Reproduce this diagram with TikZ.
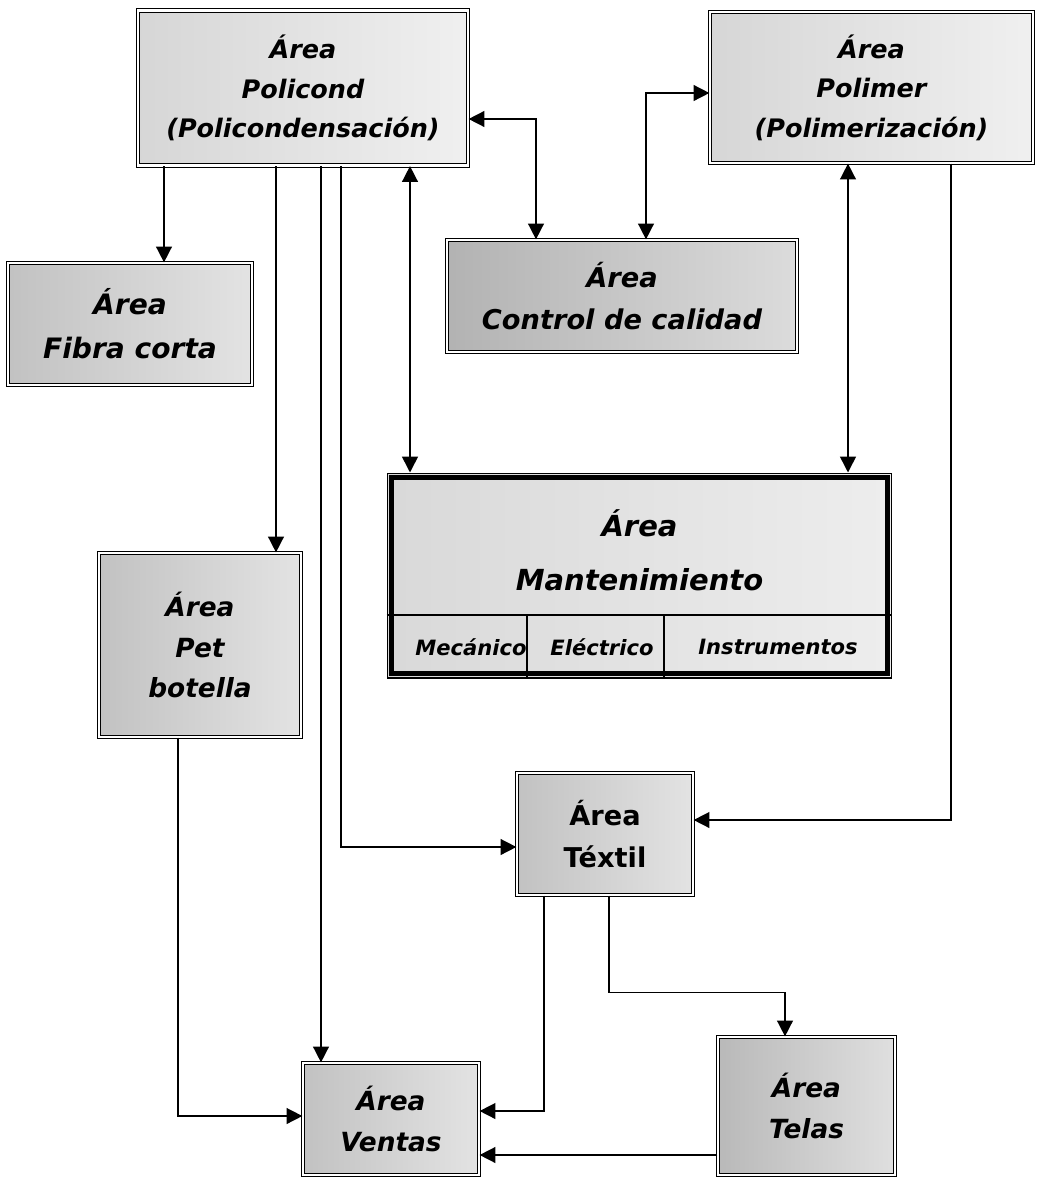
\documentclass[tikz,border=0pt]{standalone}
\usepackage{fontspec}
\setmainfont{DejaVu Sans}
\usetikzlibrary{arrows.meta,calc,positioning}

\newcommand{\areafont}[2]{\bfseries\itshape\fontsize{#1}{#2}\selectfont}

\tikzset{
  area/.style={draw=black, line width=0.7pt, double=white, double distance=1.2pt,
    left color=gray!48, right color=gray!22, align=center, inner sep=2pt},
  lightarea/.style={area, left color=gray!32, right color=gray!12},
  mantbox/.style={draw=black, line width=0.6pt, left color=gray!30, right color=gray!14},
  conn/.style={line width=0.9pt, -{Triangle[length=9pt,width=9pt]}},
  conn2/.style={line width=0.9pt, {Triangle[length=9pt,width=9pt]}-{Triangle[length=9pt,width=9pt]}}
}

\begin{document}
\begin{tikzpicture}[x=0.02cm, y=-0.02cm]
  \useasboundingbox (0,0) rectangle (1050,1180);

  % Areas
  \node[lightarea, font=\areafont{14.5}{22.5}, minimum width=6.6cm, minimum height=3.1cm]
    (poli) at (303,88) {Área\\Policond\\(Policondensación)};
  \node[lightarea, font=\areafont{14.5}{22.5}, minimum width=6.46cm, minimum height=3.02cm]
    (polim) at (871.5,87.5) {Área\\Polimer\\(Polimerización)};
  \node[area, left color=gray!60, right color=gray!28, font=\areafont{15.5}{24},
    minimum width=7cm, minimum height=2.24cm]
    (calidad) at (622,296) {Área\\Control de calidad};
  \node[area, font=\areafont{16}{25}, minimum width=4.88cm, minimum height=2.44cm]
    (fibra) at (130,324) {Área\\Fibra corta};
  \node[area, font=\areafont{15}{23}, minimum width=4.04cm, minimum height=3.68cm]
    (pet) at (200,645) {Área\\Pet\\botella};
  \node[area, font=\bfseries\fontsize{15.5}{24}\selectfont, minimum width=3.52cm, minimum height=2.44cm]
    (textil) at (605,834) {Área\\Téxtil};
  \node[area, font=\areafont{15}{23}, minimum width=3.52cm, minimum height=2.24cm]
    (ventas) at (391,1119) {Área\\Ventas};
  \node[area, left color=gray!55, right color=gray!25, font=\areafont{15}{23},
    minimum width=3.54cm, minimum height=2.76cm]
    (telas) at (806.5,1106) {Área\\Telas};

  % Mantenimiento
  \node[mantbox, minimum width=10.1cm, minimum height=4.1cm] (mant) at (639.5,575.5) {};
  \draw[line width=2.4pt] ($(mant.north west)+(5,5)$) rectangle ($(mant.south east)+(-5,-5)$);
  \draw[line width=0.8pt] (mant.west |- 0,615) -- (mant.east |- 0,615);
  \draw[line width=0.8pt] (527,615) -- (mant.south -| 527,0);
  \draw[line width=0.8pt] (664,615) -- (mant.south -| 664,0);
  \node[font=\areafont{16.5}{31}, align=center] (manttit) at (639.5,550) {Área\\Mantenimiento};
  \node[font=\areafont{12}{16}] (meca) at (471,647) {Mecánico};
  \node[font=\areafont{12}{16}] (elec) at (602,647) {Eléctrico};
  \node[font=\areafont{12}{16}] (instr) at (778,647) {Instrumentos};

  % Connectors
  \draw[conn] (poli.south -| 164,0) -- (fibra.north -| 164,0);
  \draw[conn] (poli.south -| 276,0) -- (pet.north -| 276,0);
  \draw[conn] (poli.south -| 321,0) -- (ventas.north -| 321,0);
  \draw[conn] (poli.south -| 341,0) |- ([yshift=-0.26cm]textil.west);
  \draw[conn2] (poli.south -| 410,0) -- (mant.north -| 410,0);
  \draw[conn2] ([yshift=-0.62cm]poli.east) -| (calidad.north -| 536,0);
  \draw[conn2] (calidad.north -| 646,0) |- ([yshift=-0.11cm]polim.west);
  \draw[conn2] (polim.south -| 848,0) -- (mant.north -| 848,0);
  \draw[conn] (polim.south -| 951,0) |- ([yshift=0.28cm]textil.east);
  \draw[conn] (pet.south -| 178,0) |- ([yshift=0.06cm]ventas.west);
  \draw[conn] (textil.south -| 544,0) |- ([yshift=0.16cm]ventas.east);
  \draw[conn] (textil.south -| 609,0) -- ++(0,97) -| (telas.north -| 785,0);
  \coordinate (tv) at ([yshift=-0.98cm]telas.west);
  \draw[conn] (tv) -- (tv -| ventas.east);
\end{tikzpicture}
\end{document}
